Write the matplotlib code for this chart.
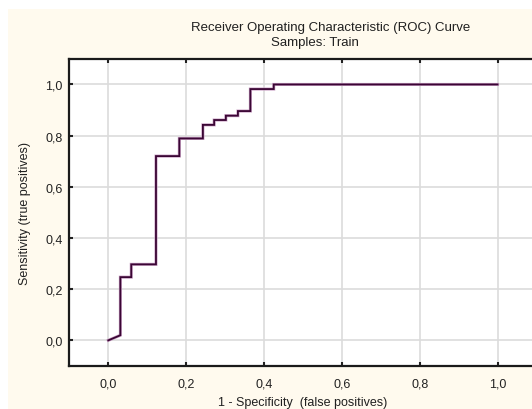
import matplotlib.pyplot as plt
from matplotlib.patches import Rectangle

plt.rcParams['font.family'] = ['Liberation Sans', 'DejaVu Sans']
plt.rcParams['text.color'] = '#202020'
plt.rcParams['axes.labelcolor'] = '#202020'

# ROC step curve (1 - specificity, sensitivity)
fpr = [0.0, 0.031, 0.031, 0.059, 0.059, 0.1225, 0.1225, 0.1825, 0.1825, 0.243, 0.243,
       0.272, 0.272, 0.302, 0.302, 0.333, 0.333, 0.365, 0.365, 0.425, 0.425, 1.0]
tpr = [0.0, 0.02, 0.247, 0.247, 0.297, 0.297, 0.72, 0.72, 0.789, 0.789, 0.842,
       0.842, 0.861, 0.861, 0.878, 0.878, 0.896, 0.896, 0.982, 0.982, 1.0, 1.0]

ticks = [0.0, 0.2, 0.4, 0.6, 0.8, 1.0]
tick_labels = ['0,0', '0,2', '0,4', '0,6', '0,8', '1,0']

fig = plt.figure(figsize=(5.32, 4.10), dpi=100)
fig.patch.set_facecolor('white')
# cream panel behind the chart
fig.patches.append(Rectangle((8 / 532, 0), 1, 1 - 10 / 410, transform=fig.transFigure,
                             facecolor='#fffaee', edgecolor='none', zorder=-10))

ax = fig.add_axes([0.1304, 0.105, 0.878, 0.749])
ax.set_facecolor('white')
ax.plot(fpr, tpr, color='#c9a0c4', lw=2.2, solid_joinstyle='miter', zorder=3)
ax.plot(fpr, tpr, color='#3a0634', lw=1.3, solid_joinstyle='miter', zorder=4)

ax.set_xlim(-0.1, 1.1)
ax.set_ylim(-0.1, 1.1)
ax.set_xticks(ticks)
ax.set_xticklabels(tick_labels)
ax.set_yticks(ticks)
ax.set_yticklabels(tick_labels)
ax.grid(True, color='#dcdcdc', lw=1.2)
ax.set_axisbelow(True)

ax.tick_params(axis='x', direction='in', length=3, width=1.5, top=True, labelsize=9,
               pad=8, colors='#222222')
ax.tick_params(axis='y', direction='in', length=3, width=1.5, labelsize=9, pad=5,
               colors='#222222')
for s in ['left', 'top', 'bottom']:
    ax.spines[s].set_linewidth(1.6)
    ax.spines[s].set_color('#1a1a1a')
ax.spines['right'].set_visible(False)

ax.set_xlabel('1 - Specificity  (false positives)', fontsize=9, labelpad=5)
ax.set_ylabel('Sensitivity (true positives)', fontsize=9, labelpad=10)

fig.text(331 / 532, 1 - 28 / 410, 'Receiver Operating Characteristic (ROC) Curve',
         ha='center', va='center', fontsize=9.5)
fig.text(315 / 532, 1 - 43 / 410, 'Samples: Train', ha='center', va='center', fontsize=9.5)

fig.savefig('out.png', dpi=100)
